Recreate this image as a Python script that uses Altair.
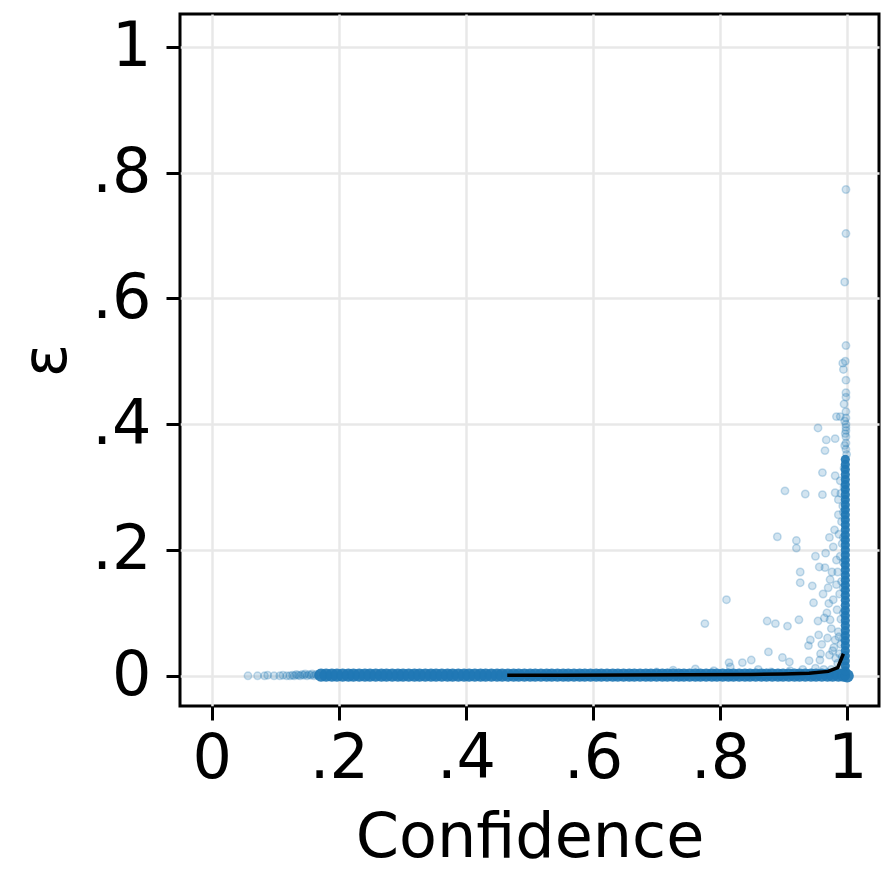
import altair as alt
import pandas as pd

# ---- data ----
# sparse individual points (confidence, epsilon)
sparse_conf = [0.057, 0.072, 0.083, 0.088, 0.098, 0.107, 0.112, 0.118, 0.123, 0.127, 0.130, 0.133,
               0.136, 0.139, 0.142, 0.145, 0.147, 0.150, 0.153, 0.156, 0.158, 0.161, 0.164, 0.167,
               0.998, 0.998, 0.996, 0.998, 0.997, 0.993, 0.994, 0.998, 0.998, 0.998, 0.995, 0.998,
               0.998, 0.983, 0.989, 0.954, 0.981, 0.967, 0.965, 0.998, 0.998, 0.998, 0.998, 0.998,
               0.996, 0.997, 0.999, 0.996, 0.998,
               0.961, 0.981, 0.902, 0.934, 0.961, 0.981, 0.986, 0.890, 0.920, 0.920, 0.950, 0.956,
               0.926, 0.926, 0.965, 0.945, 0.947, 0.810, 0.776, 0.874, 0.887, 0.906, 0.924, 0.954,
               0.939, 0.942, 0.876, 0.849, 0.898, 0.909, 0.835, 0.816, 0.814, 0.940, 0.957, 0.972,
               0.981, 0.973, 0.978, 0.973, 0.983, 0.980, 0.986, 0.989,
               0.985, 0.988, 0.990, 0.986, 0.990, 0.984, 0.988, 0.991, 0.985, 0.989, 0.992, 0.987,
               0.991, 0.993, 0.990, 0.977, 0.969, 0.975, 0.968, 0.962, 0.970, 0.976, 0.966, 0.978,
               0.972, 0.983, 0.960, 0.955, 0.963, 0.950, 0.930, 0.910, 0.880, 0.860, 0.975, 0.985,
               0.990, 0.992, 0.994, 0.994, 0.994, 0.994, 0.994, 0.994, 0.995, 0.995,
               0.726, 0.761, 0.700, 0.790, 0.982, 0.979, 0.971, 0.987, 0.964, 0.958]
sparse_eps = [0.000, 0.000, 0.000, 0.001, 0.000, 0.000, 0.001, 0.000, 0.000, 0.001, 0.000, 0.002,
              0.001, 0.000, 0.002, 0.001, 0.003, 0.000, 0.002, 0.001, 0.003, 0.000, 0.002, 0.001,
              0.773, 0.703, 0.626, 0.525, 0.500, 0.497, 0.487, 0.470, 0.450, 0.443, 0.432, 0.420,
              0.410, 0.412, 0.412, 0.394, 0.377, 0.375, 0.358, 0.400, 0.390, 0.380, 0.370, 0.360,
              0.405, 0.385, 0.352, 0.366, 0.395,
              0.323, 0.318, 0.294, 0.289, 0.288, 0.291, 0.280, 0.221, 0.215, 0.203, 0.190, 0.173,
              0.165, 0.148, 0.172, 0.143, 0.116, 0.121, 0.083, 0.087, 0.083, 0.079, 0.089, 0.087,
              0.048, 0.057, 0.038, 0.025, 0.029, 0.022, 0.021, 0.014, 0.021, 0.024, 0.025, 0.033,
              0.057, 0.089, 0.121, 0.153, 0.184, 0.232, 0.256, 0.310,
              0.020, 0.035, 0.050, 0.070, 0.090, 0.105, 0.130, 0.150, 0.165, 0.190, 0.210, 0.225,
              0.245, 0.270, 0.290, 0.040, 0.060, 0.075, 0.100, 0.130, 0.140, 0.165, 0.195, 0.205,
              0.220, 0.145, 0.050, 0.065, 0.010, 0.012, 0.010, 0.008, 0.006, 0.010, 0.010, 0.008,
              0.012, 0.030, 0.060, 0.100, 0.140, 0.180, 0.220, 0.260, 0.300, 0.330,
              0.009, 0.011, 0.006, 0.008, 0.028, 0.045, 0.115, 0.062, 0.092, 0.035]

# dense horizontal band near epsilon = 0
band_conf = [0.172, 0.180, 0.189, 0.197, 0.206, 0.215, 0.223, 0.232, 0.241, 0.249, 0.258, 0.267,
             0.275, 0.284, 0.293, 0.301, 0.310, 0.319, 0.327, 0.336, 0.345, 0.353, 0.362, 0.371,
             0.379, 0.388, 0.397, 0.405, 0.414, 0.423, 0.431, 0.440, 0.449, 0.457, 0.466, 0.475,
             0.483, 0.492, 0.501, 0.509, 0.518, 0.527, 0.535, 0.544, 0.553, 0.561, 0.570, 0.579,
             0.587, 0.596, 0.605, 0.613, 0.622, 0.631, 0.639, 0.648, 0.657, 0.665, 0.674, 0.683,
             0.691, 0.700, 0.709, 0.717, 0.726, 0.735, 0.743, 0.752, 0.761, 0.769, 0.778, 0.787,
             0.795, 0.804, 0.813, 0.821, 0.830, 0.839, 0.847, 0.856, 0.865, 0.873, 0.882, 0.891,
             0.899, 0.908, 0.917, 0.925, 0.934, 0.943, 0.951, 0.960, 0.969, 0.977, 0.986, 0.994,
             1.000]
band_eps = [0.001, 0.001, 0.001, 0.001, 0.001, 0.001, 0.001, 0.001, 0.001, 0.001, 0.001, 0.001,
            0.001, 0.001, 0.001, 0.001, 0.001, 0.001, 0.001, 0.001, 0.001, 0.001, 0.001, 0.001,
            0.001, 0.001, 0.001, 0.001, 0.001, 0.001, 0.001, 0.001, 0.001, 0.001, 0.001, 0.001,
            0.001, 0.001, 0.001, 0.001, 0.001, 0.001, 0.001, 0.001, 0.001, 0.001, 0.001, 0.001,
            0.001, 0.001, 0.001, 0.001, 0.001, 0.001, 0.001, 0.001, 0.001, 0.001, 0.001, 0.001,
            0.001, 0.001, 0.001, 0.001, 0.001, 0.001, 0.001, 0.001, 0.001, 0.001, 0.001, 0.001,
            0.001, 0.001, 0.001, 0.001, 0.001, 0.001, 0.001, 0.001, 0.001, 0.001, 0.001, 0.001,
            0.001, 0.001, 0.001, 0.001, 0.001, 0.001, 0.001, 0.001, 0.001, 0.001, 0.001, 0.001,
            0.000]

# dense vertical column near confidence = 1
column_conf = 0.997
column_eps = [0.000, 0.008, 0.016, 0.024, 0.032, 0.040, 0.048, 0.056, 0.064, 0.072, 0.080, 0.088,
              0.096, 0.104, 0.112, 0.120, 0.128, 0.136, 0.144, 0.152, 0.160, 0.168, 0.176, 0.184,
              0.192, 0.200, 0.208, 0.216, 0.224, 0.232, 0.240, 0.248, 0.256, 0.264, 0.272, 0.280,
              0.288, 0.296, 0.304, 0.312, 0.320, 0.328, 0.336, 0.344]

# binned mean line
line_conf = [0.465, 0.550, 0.650, 0.750, 0.850, 0.900, 0.940, 0.970, 0.985, 0.994]
line_eps = [0.001, 0.001, 0.0012, 0.0015, 0.002, 0.003, 0.004, 0.007, 0.013, 0.035]

tick_vals = [0, 0.2, 0.4, 0.6, 0.8, 1]

# ---- frames ----
sparse_df = pd.DataFrame({"conf": sparse_conf, "eps": sparse_eps})
band_df = pd.DataFrame({"conf": band_conf, "eps": band_eps})
column_df = pd.DataFrame({"conf": [column_conf] * len(column_eps), "eps": column_eps})
line_df = pd.DataFrame({"conf": line_conf, "eps": line_eps})

BLUE = "#1f77b4"
FONT = "DejaVu Sans"
label_expr = ("datum.value == 0 ? '0' : datum.value == 1 ? '1' : "
              "replace(format(datum.value, '.1f'), '0.', '.')")

x_enc = alt.X("conf:Q", scale=alt.Scale(domain=[-0.05, 1.05], nice=False, zero=False),
              axis=alt.Axis(values=tick_vals, labelExpr=label_expr, title="Confidence",
                            labelPadding=8, titlePadding=18))
y_enc = alt.Y("eps:Q", scale=alt.Scale(domain=[-0.048, 1.052], nice=False, zero=False),
              axis=alt.Axis(values=tick_vals, labelExpr=label_expr, title="ε",
                            labelPadding=15, titlePadding=13))

sparse = alt.Chart(sparse_df).mark_circle(
    size=55, color=BLUE, fillOpacity=0.2, stroke=BLUE, strokeWidth=1.5, strokeOpacity=0.25
).encode(x=x_enc, y=y_enc)

band = alt.Chart(band_df).mark_circle(
    size=175, color=BLUE, fillOpacity=0.92, strokeWidth=0
).encode(x=x_enc, y=y_enc)

column = alt.Chart(column_df).mark_circle(
    size=85, color=BLUE, fillOpacity=0.92, strokeWidth=0
).encode(x=x_enc, y=y_enc)

line = alt.Chart(line_df).mark_line(color="black", strokeWidth=3.5).encode(x=x_enc, y=y_enc)

chart = alt.layer(sparse, band, column, line).properties(
    width=699, height=692,
    autosize=alt.AutoSizeParams(type="none"),
    padding={"left": 172, "top": 6, "right": 5, "bottom": 170},
).configure_view(
    stroke="black", strokeWidth=3
).configure_axis(
    domain=False,
    grid=True, gridColor="#e8e8e8", gridWidth=2.5,
    ticks=True, tickColor="black", tickWidth=3, tickSize=14,
    labelFont=FONT, labelFontSize=62, labelColor="black",
    titleFont=FONT, titleFontSize=62, titleFontWeight="normal", titleColor="black",
)

chart.save("out.html", embed_options={"renderer": "svg", "actions": False})
